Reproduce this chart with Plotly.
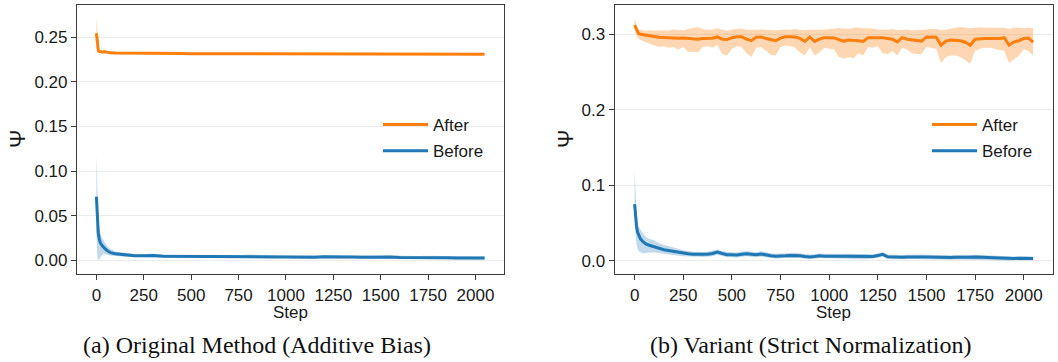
import plotly.graph_objects as go

# ---------------- data ----------------
steps_a = [0, 5, 10, 15, 20, 30, 40, 50, 60, 75,
           100, 150, 200, 250, 300, 350, 400, 450, 500, 550,
           600, 650, 700, 750, 800, 850, 900, 950, 1000, 1050,
           1100, 1150, 1200, 1250, 1300, 1350, 1400, 1450, 1500, 1550,
           1600, 1650, 1700, 1750, 1800, 1850, 1900, 1950, 2000, 2048]

a_after = [0.2545, 0.2400, 0.2352, 0.2342, 0.2338, 0.2336, 0.2337, 0.2333, 0.2330, 0.2326,
           0.2323, 0.2321, 0.2319, 0.2318, 0.2319, 0.2317, 0.2316, 0.2317, 0.2316, 0.2316,
           0.2317, 0.2315, 0.2315, 0.2316, 0.2315, 0.2314, 0.2315, 0.2314, 0.2315, 0.2314,
           0.2314, 0.2315, 0.2314, 0.2314, 0.2313, 0.2314, 0.2313, 0.2314, 0.2313, 0.2314,
           0.2313, 0.2313, 0.2312, 0.2313, 0.2312, 0.2312, 0.2312, 0.2311, 0.2311, 0.2310]
a_after_hi = [0.2710, 0.2560, 0.2420, 0.2375, 0.2360, 0.2352, 0.2350, 0.2345, 0.2342, 0.2337,
              0.2331, 0.2329, 0.2327, 0.2326, 0.2327, 0.2325, 0.2324, 0.2325, 0.2324, 0.2324,
              0.2325, 0.2323, 0.2323, 0.2324, 0.2323, 0.2322, 0.2323, 0.2322, 0.2323, 0.2322,
              0.2322, 0.2323, 0.2322, 0.2322, 0.2321, 0.2322, 0.2321, 0.2322, 0.2321, 0.2322,
              0.2321, 0.2321, 0.2320, 0.2321, 0.2320, 0.2320, 0.2320, 0.2319, 0.2319, 0.2318]
a_after_lo = [0.2500, 0.2330, 0.2322, 0.2325, 0.2325, 0.2325, 0.2327, 0.2324, 0.2322, 0.2318,
              0.2315, 0.2313, 0.2311, 0.2310, 0.2311, 0.2309, 0.2308, 0.2309, 0.2308, 0.2308,
              0.2309, 0.2307, 0.2307, 0.2308, 0.2307, 0.2306, 0.2307, 0.2306, 0.2307, 0.2306,
              0.2306, 0.2307, 0.2306, 0.2306, 0.2305, 0.2306, 0.2305, 0.2306, 0.2305, 0.2306,
              0.2305, 0.2305, 0.2304, 0.2305, 0.2304, 0.2304, 0.2304, 0.2303, 0.2303, 0.2302]

a_before = [0.0713, 0.0450, 0.0300, 0.0240, 0.0200, 0.0165, 0.0140, 0.0120, 0.0105, 0.0085,
            0.0072, 0.0060, 0.0052, 0.0050, 0.0053, 0.0046, 0.0045, 0.0048, 0.0044, 0.0047,
            0.0043, 0.0042, 0.0040, 0.0038, 0.0045, 0.0039, 0.0040, 0.0038, 0.0041, 0.0036,
            0.0038, 0.0035, 0.0040, 0.0036, 0.0034, 0.0036, 0.0033, 0.0035, 0.0034, 0.0036,
            0.0032, 0.0033, 0.0031, 0.0032, 0.0030, 0.0029, 0.0026, 0.0028, 0.0025, 0.0024]
a_before_hi = [0.1180, 0.0750, 0.0460, 0.0370, 0.0310, 0.0250, 0.0210, 0.0180, 0.0155, 0.0125,
               0.0098, 0.0082, 0.0072, 0.0069, 0.0072, 0.0064, 0.0063, 0.0066, 0.0062, 0.0065,
               0.0061, 0.0060, 0.0058, 0.0056, 0.0064, 0.0057, 0.0058, 0.0056, 0.0059, 0.0054,
               0.0056, 0.0053, 0.0058, 0.0054, 0.0052, 0.0054, 0.0051, 0.0053, 0.0052, 0.0054,
               0.0050, 0.0051, 0.0049, 0.0050, 0.0048, 0.0047, 0.0044, 0.0046, 0.0043, 0.0042]
a_before_lo = [0.0300, 0.0040, 0.0000, 0.0010, 0.0030, 0.0060, 0.0070, 0.0065, 0.0060, 0.0050,
               0.0048, 0.0040, 0.0034, 0.0033, 0.0035, 0.0029, 0.0028, 0.0031, 0.0027, 0.0030,
               0.0026, 0.0025, 0.0023, 0.0021, 0.0027, 0.0022, 0.0023, 0.0021, 0.0024, 0.0019,
               0.0021, 0.0018, 0.0023, 0.0019, 0.0017, 0.0019, 0.0016, 0.0018, 0.0017, 0.0019,
               0.0015, 0.0016, 0.0014, 0.0015, 0.0013, 0.0012, 0.0010, 0.0011, 0.0009, 0.0008]

steps_b = [0, 5, 10, 15, 20, 30, 40, 50, 60, 75,
           100, 125, 150, 175, 200, 225, 250, 275, 300, 325,
           350, 375, 400, 425, 450, 475, 500, 525, 550, 575,
           600, 625, 650, 675, 700, 725, 750, 775, 800, 825,
           850, 875, 900, 925, 950, 975, 1000, 1025, 1050, 1075,
           1100, 1125, 1150, 1175, 1200, 1225, 1250, 1275, 1300, 1325,
           1350, 1375, 1400, 1425, 1450, 1475, 1500, 1525, 1550, 1575,
           1600, 1625, 1650, 1675, 1700, 1725, 1750, 1775, 1800, 1825,
           1850, 1875, 1900, 1925, 1950, 1975, 2000, 2025, 2048]

b_after = [0.3120, 0.3090, 0.3050, 0.3020, 0.3010, 0.3000, 0.2995, 0.2990, 0.2988, 0.2985,
           0.2975, 0.2962, 0.2958, 0.2952, 0.2955, 0.2948, 0.2952, 0.2946, 0.2945, 0.2935,
           0.2945, 0.2946, 0.2948, 0.2965, 0.2935, 0.2930, 0.2955, 0.2968, 0.2966, 0.2935,
           0.2915, 0.2962, 0.2965, 0.2945, 0.2935, 0.2915, 0.2950, 0.2968, 0.2966, 0.2965,
           0.2945, 0.2905, 0.2965, 0.2905, 0.2935, 0.2955, 0.2955, 0.2952, 0.2930, 0.2910,
           0.2925, 0.2925, 0.2915, 0.2905, 0.2955, 0.2955, 0.2957, 0.2955, 0.2945, 0.2935,
           0.2900, 0.2955, 0.2935, 0.2925, 0.2925, 0.2910, 0.2965, 0.2965, 0.2962, 0.2855,
           0.2910, 0.2925, 0.2925, 0.2915, 0.2895, 0.2855, 0.2935, 0.2945, 0.2945, 0.2945,
           0.2945, 0.2945, 0.2955, 0.2855, 0.2900, 0.2915, 0.2945, 0.2950, 0.2895]
b_after_hi = [0.3220, 0.3160, 0.3120, 0.3090, 0.3070, 0.3060, 0.3050, 0.3050, 0.3050, 0.3055,
              0.3050, 0.3050, 0.3055, 0.3050, 0.3065, 0.3060, 0.3055, 0.3070, 0.3080, 0.3095,
              0.3070, 0.3060, 0.3065, 0.3080, 0.3060, 0.3050, 0.3065, 0.3070, 0.3075, 0.3060,
              0.3055, 0.3060, 0.3065, 0.3060, 0.3055, 0.3055, 0.3060, 0.3065, 0.3060, 0.3070,
              0.3060, 0.3055, 0.3065, 0.3060, 0.3060, 0.3065, 0.3070, 0.3075, 0.3080, 0.3075,
              0.3070, 0.3085, 0.3090, 0.3080, 0.3075, 0.3075, 0.3060, 0.3065, 0.3060, 0.3070,
              0.3055, 0.3060, 0.3065, 0.3055, 0.3055, 0.3060, 0.3065, 0.3070, 0.3070, 0.3055,
              0.3060, 0.3075, 0.3090, 0.3095, 0.3090, 0.3080, 0.3085, 0.3090, 0.3085, 0.3085,
              0.3080, 0.3075, 0.3085, 0.3070, 0.3090, 0.3085, 0.3080, 0.3085, 0.3080]
b_after_lo = [0.3050, 0.3030, 0.2990, 0.2960, 0.2940, 0.2920, 0.2910, 0.2900, 0.2890, 0.2880,
              0.2850, 0.2830, 0.2840, 0.2820, 0.2830, 0.2800, 0.2830, 0.2770, 0.2770, 0.2760,
              0.2830, 0.2840, 0.2820, 0.2860, 0.2740, 0.2720, 0.2810, 0.2840, 0.2830, 0.2750,
              0.2700, 0.2820, 0.2830, 0.2780, 0.2730, 0.2720, 0.2830, 0.2850, 0.2840, 0.2820,
              0.2760, 0.2720, 0.2830, 0.2720, 0.2760, 0.2820, 0.2810, 0.2800, 0.2700, 0.2680,
              0.2700, 0.2680, 0.2750, 0.2720, 0.2830, 0.2820, 0.2840, 0.2750, 0.2740, 0.2780,
              0.2720, 0.2820, 0.2800, 0.2750, 0.2740, 0.2740, 0.2830, 0.2820, 0.2810, 0.2620,
              0.2700, 0.2720, 0.2720, 0.2700, 0.2660, 0.2610, 0.2780, 0.2810, 0.2820, 0.2820,
              0.2810, 0.2800, 0.2780, 0.2620, 0.2670, 0.2720, 0.2800, 0.2780, 0.2720]

b_before = [0.0750, 0.0580, 0.0450, 0.0380, 0.0340, 0.0290, 0.0260, 0.0240, 0.0220, 0.0205,
            0.0190, 0.0165, 0.0145, 0.0135, 0.0120, 0.0105, 0.0098, 0.0092, 0.0085, 0.0085,
            0.0080, 0.0085, 0.0095, 0.0115, 0.0095, 0.0080, 0.0078, 0.0075, 0.0085, 0.0092,
            0.0085, 0.0078, 0.0090, 0.0075, 0.0065, 0.0060, 0.0060, 0.0065, 0.0070, 0.0072,
            0.0065, 0.0055, 0.0050, 0.0055, 0.0065, 0.0060, 0.0058, 0.0060, 0.0055, 0.0058,
            0.0060, 0.0058, 0.0052, 0.0050, 0.0048, 0.0055, 0.0068, 0.0085, 0.0052, 0.0048,
            0.0045, 0.0045, 0.0048, 0.0052, 0.0055, 0.0050, 0.0048, 0.0045, 0.0045, 0.0042,
            0.0040, 0.0042, 0.0045, 0.0042, 0.0040, 0.0045, 0.0048, 0.0045, 0.0042, 0.0045,
            0.0042, 0.0040, 0.0030, 0.0028, 0.0030, 0.0032, 0.0030, 0.0032, 0.0030]
b_before_hi = [0.1200, 0.0850, 0.0620, 0.0520, 0.0460, 0.0410, 0.0370, 0.0340, 0.0310, 0.0290,
               0.0270, 0.0230, 0.0210, 0.0190, 0.0170, 0.0150, 0.0140, 0.0130, 0.0120, 0.0120,
               0.0115, 0.0120, 0.0130, 0.0150, 0.0130, 0.0115, 0.0112, 0.0110, 0.0120, 0.0128,
               0.0120, 0.0112, 0.0125, 0.0108, 0.0098, 0.0092, 0.0092, 0.0098, 0.0102, 0.0104,
               0.0097, 0.0087, 0.0082, 0.0087, 0.0097, 0.0092, 0.0090, 0.0092, 0.0087, 0.0090,
               0.0092, 0.0090, 0.0084, 0.0082, 0.0080, 0.0087, 0.0100, 0.0115, 0.0084, 0.0080,
               0.0076, 0.0076, 0.0079, 0.0083, 0.0086, 0.0081, 0.0079, 0.0076, 0.0076, 0.0073,
               0.0070, 0.0072, 0.0075, 0.0072, 0.0070, 0.0075, 0.0078, 0.0075, 0.0072, 0.0075,
               0.0072, 0.0070, 0.0058, 0.0055, 0.0057, 0.0059, 0.0057, 0.0059, 0.0057]
b_before_lo = [0.0580, 0.0350, 0.0220, 0.0160, 0.0130, 0.0110, 0.0100, 0.0100, 0.0100, 0.0110,
               0.0110, 0.0100, 0.0090, 0.0085, 0.0075, 0.0065, 0.0060, 0.0056, 0.0052, 0.0052,
               0.0048, 0.0052, 0.0060, 0.0078, 0.0062, 0.0048, 0.0046, 0.0043, 0.0052, 0.0058,
               0.0052, 0.0046, 0.0057, 0.0043, 0.0035, 0.0030, 0.0030, 0.0035, 0.0040, 0.0042,
               0.0035, 0.0026, 0.0022, 0.0026, 0.0035, 0.0030, 0.0028, 0.0030, 0.0026, 0.0028,
               0.0030, 0.0028, 0.0023, 0.0021, 0.0019, 0.0026, 0.0038, 0.0055, 0.0023, 0.0019,
               0.0017, 0.0017, 0.0019, 0.0023, 0.0026, 0.0021, 0.0019, 0.0017, 0.0017, 0.0014,
               0.0012, 0.0014, 0.0017, 0.0014, 0.0012, 0.0017, 0.0020, 0.0017, 0.0014, 0.0017,
               0.0014, 0.0012, 0.0005, 0.0004, 0.0005, 0.0007, 0.0005, 0.0007, 0.0005]

x_ticks = [0, 250, 500, 750, 1000, 1250, 1500, 1750, 2000]
y_ticks_a = [0.00, 0.05, 0.10, 0.15, 0.20, 0.25]
y_ticks_b = [0.0, 0.1, 0.2, 0.3]
series_names = ["After", "Before"]
captions = ["(a) Original Method (Additive Bias)", "(b) Variant (Strict Normalization)"]

for arr in (a_after, a_after_hi, a_after_lo, a_before, a_before_hi, a_before_lo):
    assert len(arr) == len(steps_a), len(arr)
for arr in (b_after, b_after_hi, b_after_lo, b_before, b_before_hi, b_before_lo):
    assert len(arr) == len(steps_b), len(arr)

# ---------------- styling ----------------
ORANGE = "#ff7f0e"
BLUE = "#1f77b4"
ORANGE_FILL = "rgba(255,127,14,0.32)"
BLUE_FILL = "rgba(31,119,180,0.28)"
SANS = "Liberation Sans, Arial, sans-serif"
SERIF = "Liberation Serif, Times New Roman, serif"
W, H = 1058, 362

fig = go.Figure()


def add_panel(steps, after, after_lo, after_hi, before, before_lo, before_hi, xa, ya, legend):
    for lo, hi, fillc in ((after_lo, after_hi, ORANGE_FILL), (before_lo, before_hi, BLUE_FILL)):
        fig.add_trace(go.Scatter(
            x=steps + steps[::-1], y=hi + lo[::-1], fill="toself", fillcolor=fillc,
            line=dict(width=0), mode="lines", hoverinfo="skip", showlegend=False,
            xaxis=xa, yaxis=ya))
    fig.add_trace(go.Scatter(x=steps, y=after, mode="lines", name=series_names[0],
                             line=dict(color=ORANGE, width=3), legend=legend,
                             legendgroup="after", xaxis=xa, yaxis=ya))
    fig.add_trace(go.Scatter(x=steps, y=before, mode="lines", name=series_names[1],
                             line=dict(color=BLUE, width=3), legend=legend,
                             legendgroup="before", xaxis=xa, yaxis=ya))


add_panel(steps_a, a_after, a_after_lo, a_after_hi, a_before, a_before_lo, a_before_hi,
          "x", "y", "legend")
add_panel(steps_b, b_after, b_after_lo, b_after_hi, b_before, b_before_lo, b_before_hi,
          "x2", "y2", "legend2")


def px_x(p):
    return p / W


def px_y(p):
    return 1 - p / H


ydom = [px_y(274), px_y(5)]
axis_common = dict(showline=True, linecolor="#3c3c3c", linewidth=1.2, mirror=True,
                   ticks="outside", ticklen=5, tickwidth=1.1, tickcolor="#3c3c3c",
                   tickfont=dict(family=SANS, size=17, color="#1a1a1a"), zeroline=False)

legend_common = dict(xanchor="left", yanchor="top", bgcolor="rgba(0,0,0,0)",
                     font=dict(family=SANS, size=17, color="#1a1a1a"),
                     tracegroupgap=1, itemwidth=45)

fig.update_layout(
    width=W, height=H, margin=dict(l=0, r=0, t=0, b=0),
    paper_bgcolor="white", plot_bgcolor="white",
    xaxis=dict(domain=[px_x(77), px_x(504)], range=[-102.4, 2150.4], tickvals=x_ticks,
               showgrid=False, anchor="y", **axis_common),
    yaxis=dict(domain=ydom, range=[-0.0154, 0.2862], tickvals=y_ticks_a, tickformat=".2f",
               showgrid=True, gridcolor="#ebebeb", gridwidth=1, anchor="x", **axis_common),
    xaxis2=dict(domain=[px_x(614.7), px_x(1053)], range=[-102.4, 2150.4], tickvals=x_ticks,
                showgrid=False, anchor="y2", **axis_common),
    yaxis2=dict(domain=ydom, range=[-0.0176, 0.3388], tickvals=y_ticks_b, tickformat=".1f",
                showgrid=True, gridcolor="#ebebeb", gridwidth=1, anchor="x2", **axis_common),
    legend=dict(x=px_x(378), y=px_y(107), **legend_common),
    legend2=dict(x=px_x(927), y=px_y(107), **legend_common),
    showlegend=True,
)

ann = []
for xc in (290.5, 833.8):
    ann.append(dict(text="Step", x=px_x(xc), y=px_y(312), xref="paper", yref="paper",
                    showarrow=False, xanchor="center", yanchor="middle",
                    font=dict(family=SANS, size=17, color="#1a1a1a")))
for xc in (17, 565):
    ann.append(dict(text="Ψ", x=px_x(xc), y=px_y(139), xref="paper", yref="paper",
                    showarrow=False, xanchor="center", yanchor="middle", textangle=-90,
                    font=dict(family=SANS, size=22, color="#1a1a1a")))
for xc, cap in zip((257, 810), captions):
    ann.append(dict(text=cap, x=px_x(xc), y=px_y(345), xref="paper", yref="paper",
                    showarrow=False, xanchor="center", yanchor="middle",
                    font=dict(family=SERIF, size=24, color="#111111")))
fig.update_layout(annotations=ann)

fig.write_html("out.html", config={"displayModeBar": False},
               post_script="document.body.style.margin='0px';document.body.style.overflow='hidden';")
